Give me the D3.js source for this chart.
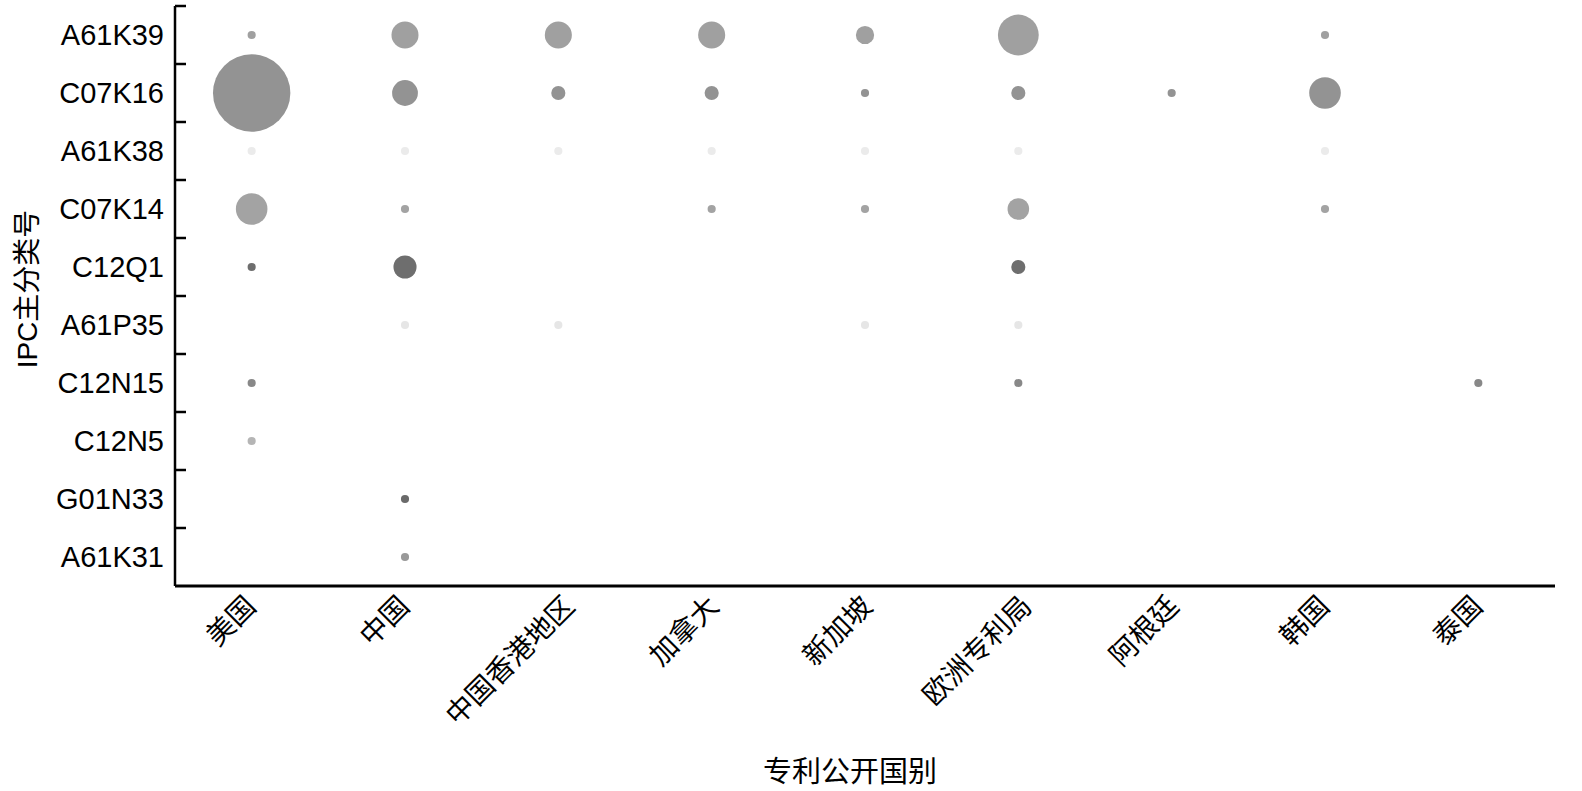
<!DOCTYPE html>
<html>
<head>
<meta charset="utf-8">
<script src="https://cdn.jsdelivr.net/npm/d3@7"></script>
<style>
  html, body { margin: 0; padding: 0; background: #fff; }
  svg { display: block; }
</style>
</head>
<body>
<div id="chart"></div>
<script>
// Countries / offices on the x axis.
var countries = ["美国", "中国", "中国香港地区", "加拿大", "新加坡", "欧洲专利局", "阿根廷", "韩国", "泰国"];

// IPC main classes on the y axis (top to bottom).
var ipcCodes = ["A61K39", "C07K16", "A61K38", "C07K14", "C12Q1", "A61P35", "C12N15", "C12N5", "G01N33", "A61K31"];

// Patent counts, one row per IPC code, one column per country (0 = no bubble).
var countA61K39 = [1, 11, 11, 11, 5, 25, 0, 1, 0];
var countC07K16 = [90, 10, 3, 3, 1, 3, 1, 15, 0];
var countA61K38 = [1, 1, 1, 1, 1, 1, 0, 1, 0];
var countC07K14 = [15, 1, 0, 1, 1, 7, 0, 1, 0];
var countC12Q1  = [1, 8, 0, 0, 0, 3, 0, 0, 0];
var countA61P35 = [0, 1, 1, 0, 1, 1, 0, 0, 0];
var countC12N15 = [1, 0, 0, 0, 0, 1, 0, 0, 1];
var countC12N5  = [1, 0, 0, 0, 0, 0, 0, 0, 0];
var countG01N33 = [0, 1, 0, 0, 0, 0, 0, 0, 0];
var countA61K31 = [0, 1, 0, 0, 0, 0, 0, 0, 0];

var counts = [countA61K39, countC07K16, countA61K38, countC07K14, countC12Q1,
  countA61P35, countC12N15, countC12N5, countG01N33, countA61K31];

// Each IPC row gets its own grey.
var rowShades = ["#a0a0a0", "#939393", "#ebebeb", "#a3a3a3", "#6e6e6e",
  "#e6e6e6", "#888888", "#b5b5b5", "#6a6a6a", "#999999"];

var width = 1582, height = 791,
  margin = { top: 6, right: 27, bottom: 205, left: 175 },
  latinFont = '"Liberation Sans", Arial, sans-serif',
  cjkFont = '"Noto Sans CJK SC", sans-serif';

var plotW = width - margin.left - margin.right,
  plotH = height - margin.top - margin.bottom;

// Flatten into cells.
var cells = [];
ipcCodes.forEach(function(code, r) {
  countries.forEach(function(c, i) {
    if (counts[r][i] > 0) cells.push({ ipc: code, country: c, value: counts[r][i] });
  });
});

var x = d3.scaleBand().domain(countries).range([0, plotW]);
var y = d3.scaleBand().domain(ipcCodes).range([0, plotH]);
var r = d3.scaleSqrt().domain([0, d3.max(cells, function(d) { return d.value; })]).range([0, 38.7]);
var shade = d3.scaleOrdinal().domain(ipcCodes).range(rowShades);

var svg = d3.select("#chart").append("svg")
  .attr("width", width)
  .attr("height", height);

var g = svg.append("g")
  .attr("transform", "translate(" + margin.left + "," + margin.top + ")");

// Bubbles.
g.selectAll(".bubble")
  .data(cells)
  .enter().append("circle")
    .attr("class", "bubble")
    .attr("cx", function(d) { return x(d.country) + x.bandwidth() / 2; })
    .attr("cy", function(d) { return y(d.ipc) + y.bandwidth() / 2; })
    .attr("r", function(d) { return r(d.value); })
    .style("fill", function(d) { return shade(d.ipc); });

// Y axis: line with inward ticks on band boundaries.
g.append("line")
  .attr("x1", 0).attr("x2", 0)
  .attr("y1", 0).attr("y2", plotH)
  .attr("stroke", "#000").attr("stroke-width", 2.5);

var boundaries = ipcCodes.map(function(d) { return y(d); });
g.selectAll(".ytick")
  .data(boundaries)
  .enter().append("line")
    .attr("x1", 0).attr("x2", 11)
    .attr("y1", function(d) { return d; })
    .attr("y2", function(d) { return d; })
    .attr("stroke", "#000").attr("stroke-width", 2.5);

g.selectAll(".ylabel")
  .data(ipcCodes)
  .enter().append("text")
    .text(function(d) { return d; })
    .attr("x", -11)
    .attr("y", function(d) { return y(d) + y.bandwidth() / 2; })
    .attr("dy", "0.36em")
    .style("text-anchor", "end")
    .style("font-family", latinFont)
    .style("font-size", "29px")
    .style("fill", "#000");

// X axis line.
g.append("line")
  .attr("x1", 0).attr("x2", plotW)
  .attr("y1", plotH).attr("y2", plotH)
  .attr("stroke", "#000").attr("stroke-width", 3);

g.selectAll(".xlabel")
  .data(countries)
  .enter().append("text")
    .text(function(d) { return d; })
    .attr("transform", function(d) {
      // longer labels sit a little further right in the original
      var cx = x(d) + x.bandwidth() / 2 + 6 + (d.length - 2) * 3, cy = plotH + 22;
      return "translate(" + cx + "," + cy + ") rotate(-45)";
    })
    .style("text-anchor", "end")
    .style("font-family", cjkFont)
    .style("font-size", "28px")
    .style("fill", "#000");

// Axis titles.
svg.append("text")
  .text("专利公开国别")
  .attr("x", 850)
  .attr("y", 782)
  .style("text-anchor", "middle")
  .style("font-family", cjkFont)
  .style("font-size", "29px")
  .style("fill", "#000");

svg.append("text")
  .attr("transform", "translate(37,289) rotate(-90)")
  .style("text-anchor", "middle")
  .style("font-size", "28px")
  .style("fill", "#000")
  .call(function(t) {
    t.append("tspan").text("IPC").style("font-family", latinFont);
    t.append("tspan").text("主分类号").style("font-family", cjkFont);
  });
</script>
</body>
</html>
